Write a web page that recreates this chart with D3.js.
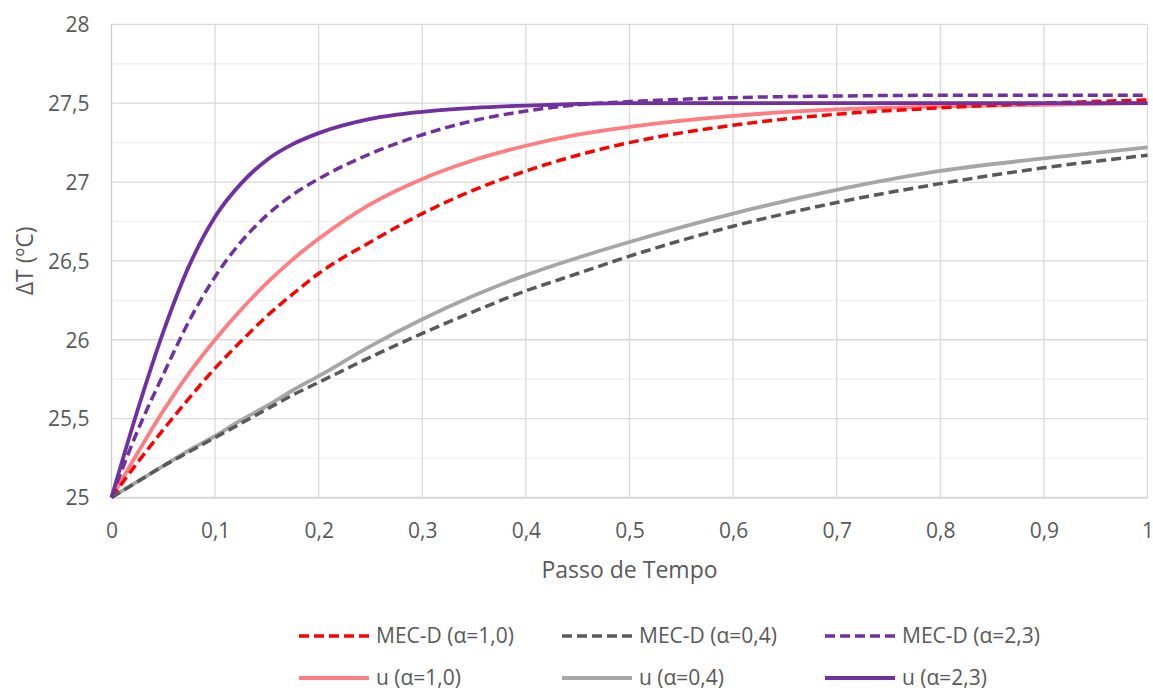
<!DOCTYPE html>
<html>
<head>
<meta charset="utf-8">
<script src="https://cdn.jsdelivr.net/npm/d3@7/dist/d3.min.js"></script>
<style>
  html, body { margin: 0; padding: 0; background: #fff; }
  svg { display: block; }
  text { font-family: "Open Sans", "Liberation Sans", sans-serif; fill: #595959; }
</style>
</head>
<body>
<svg id="chart" width="1153" height="691"></svg>
<script>
// Time steps (x) shared by every series
const steps = [0, 0.025, 0.05, 0.075, 0.1, 0.125, 0.15, 0.175, 0.2, 0.25, 0.3, 0.35, 0.4, 0.45, 0.5, 0.6, 0.7, 0.8, 0.9, 1.0];

// ΔT values for each series
const mecd10 = [25, 25.22, 25.43, 25.63, 25.82, 25.99, 26.15, 26.29, 26.42, 26.62, 26.8, 26.95, 27.07, 27.17, 27.25, 27.36, 27.43, 27.47, 27.5, 27.52];
const mecd04 = [25, 25.1, 25.2, 25.29, 25.38, 25.47, 25.56, 25.65, 25.73, 25.89, 26.04, 26.18, 26.31, 26.42, 26.53, 26.72, 26.87, 26.99, 27.09, 27.17];
const mecd23 = [25, 25.42, 25.78, 26.12, 26.4, 26.62, 26.79, 26.92, 27.02, 27.18, 27.3, 27.39, 27.45, 27.49, 27.51, 27.535, 27.545, 27.55, 27.55, 27.55];
const u10 = [25, 25.28, 25.55, 25.79, 26.0, 26.19, 26.36, 26.51, 26.64, 26.86, 27.02, 27.14, 27.23, 27.3, 27.35, 27.42, 27.46, 27.48, 27.49, 27.5];
const u04 = [25, 25.1, 25.2, 25.3, 25.39, 25.49, 25.58, 25.68, 25.77, 25.96, 26.13, 26.28, 26.41, 26.52, 26.62, 26.8, 26.95, 27.07, 27.15, 27.22];
const u23 = [25, 25.55, 26.05, 26.47, 26.78, 26.99, 27.14, 27.24, 27.31, 27.4, 27.445, 27.47, 27.485, 27.495, 27.5, 27.5, 27.5, 27.5, 27.5, 27.5];

// Axis ticks
const xTicks = [0, 0.1, 0.2, 0.3, 0.4, 0.5, 0.6, 0.7, 0.8, 0.9, 1];
const xTickLabels = ["0", "0,1", "0,2", "0,3", "0,4", "0,5", "0,6", "0,7", "0,8", "0,9", "1"];
const yTicks = [25, 25.5, 26, 26.5, 27, 27.5, 28];
const yTickLabels = ["25", "25,5", "26", "26,5", "27", "27,5", "28"];
const yMinorTicks = [25.25, 25.75, 26.25, 26.75, 27.25, 27.75];

// Series definitions (legend order)
const seriesNames = ["MEC-D (α=1,0)", "MEC-D (α=0,4)", "MEC-D (α=2,3)", "u (α=1,0)", "u (α=0,4)", "u (α=2,3)"];
const seriesValues = [mecd10, mecd04, mecd23, u10, u04, u23];
const seriesColors = ["#ff0000", "#595959", "#7030a0", "#ff7c80", "#a6a6a6", "#7030a0"];
const seriesDashed = [true, true, true, false, false, false];
const drawOrder = [3, 4, 0, 1, 5, 2];

const svg = d3.select("#chart");
const plotLeft = 111.5, plotRight = 1147.5, plotTop = 24.3, plotBottom = 497.5;

const x = d3.scaleLinear().domain([0, 1]).range([plotLeft, plotRight]);
const y = d3.scaleLinear().domain([25, 28]).range([plotBottom, plotTop]);

// Minor horizontal gridlines
svg.append("g").selectAll("line").data(yMinorTicks).join("line")
  .attr("x1", plotLeft).attr("x2", plotRight)
  .attr("y1", d => y(d)).attr("y2", d => y(d))
  .attr("stroke", "#f0f0f0").attr("stroke-width", 1.3);

// Major horizontal gridlines
svg.append("g").selectAll("line").data(yTicks).join("line")
  .attr("x1", plotLeft).attr("x2", plotRight)
  .attr("y1", d => y(d)).attr("y2", d => y(d))
  .attr("stroke", "#d9d9d9").attr("stroke-width", 1.3);

// Vertical gridlines
svg.append("g").selectAll("line").data(xTicks).join("line")
  .attr("x1", d => x(d)).attr("x2", d => x(d))
  .attr("y1", plotTop).attr("y2", plotBottom)
  .attr("stroke", d => d === 0 ? "#c8c8c8" : "#d9d9d9").attr("stroke-width", 1.3);

// Axes (labels only, lines come from the gridlines above)
const xAxis = d3.axisBottom(x).tickValues(xTicks)
  .tickFormat((d, i) => xTickLabels[i]).tickSize(0).tickPadding(0);
svg.append("g").attr("transform", `translate(0,${plotBottom})`).call(xAxis)
  .call(g => g.select(".domain").attr("stroke", "#d9d9d9").attr("stroke-width", 1.3))
  .call(g => g.selectAll("text").attr("y", 40).attr("dy", null)
    .style("font-size", "21px").attr("fill", "#595959").attr("font-family", null));

const yAxis = d3.axisLeft(y).tickValues(yTicks)
  .tickFormat((d, i) => yTickLabels[i]).tickSize(0).tickPadding(0);
svg.append("g").attr("transform", `translate(${plotLeft},0)`).call(yAxis)
  .call(g => g.select(".domain").remove())
  .call(g => g.selectAll("text").attr("x", -22).attr("dy", "0.35em")
    .style("font-size", "21px").attr("fill", "#595959").attr("font-family", null));

// Axis titles
svg.append("text")
  .attr("x", (plotLeft + plotRight) / 2).attr("y", 578)
  .attr("text-anchor", "middle").style("font-size", "23px")
  .text("Passo de Tempo");

svg.append("text")
  .attr("transform", `translate(33,${(plotTop + plotBottom) / 2}) rotate(-90)`)
  .attr("text-anchor", "middle").style("font-size", "23px")
  .text("ΔT (ºC)");

// Series lines
const line = d3.line()
  .x((d, i) => x(steps[i]))
  .y(d => y(d))
  .curve(d3.curveMonotoneX);

const plot = svg.append("g");
drawOrder.forEach(i => {
  plot.append("path")
    .datum(seriesValues[i])
    .attr("d", line)
    .attr("fill", "none")
    .attr("stroke", seriesColors[i])
    .attr("stroke-width", seriesDashed[i] ? 3.5 : 3.8)
    .attr("stroke-dasharray", seriesDashed[i] ? "10,5" : null)
    .attr("stroke-linejoin", "round");
});

// Legend: two rows of three entries
const legendCols = [299, 562, 825];
const legendRows = [636, 678];
const legend = svg.append("g");
seriesNames.forEach((name, i) => {
  const cx = legendCols[i % 3], cy = legendRows[Math.floor(i / 3)];
  legend.append("line")
    .attr("x1", cx).attr("x2", cx + 70)
    .attr("y1", cy).attr("y2", cy)
    .attr("stroke", seriesColors[i])
    .attr("stroke-width", seriesDashed[i] ? 3.5 : 3.8)
    .attr("stroke-dasharray", seriesDashed[i] ? "10,5" : null);
  legend.append("text")
    .attr("x", cx + 77).attr("y", cy).attr("dy", "0.35em")
    .style("font-size", "21px")
    .text(name);
});
</script>
</body>
</html>
